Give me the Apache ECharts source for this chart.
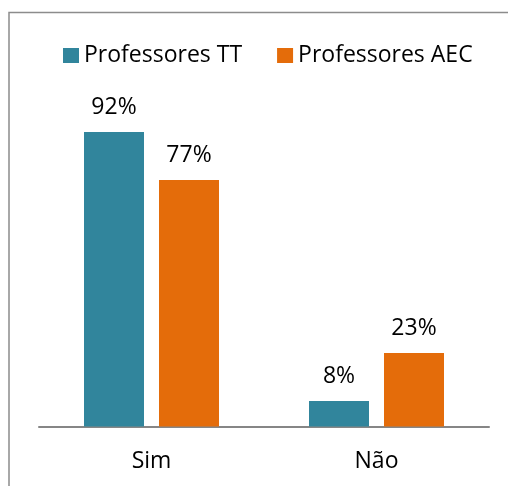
<!DOCTYPE html>
<html>
<head>
<meta charset="utf-8">
<script src="https://cdn.jsdelivr.net/npm/echarts@6/dist/echarts.min.js"></script>
<style>
  html, body { margin: 0; padding: 0; background: #fff; }
  #chart { width: 508px; height: 486px; }
</style>
</head>
<body>
<div id="chart"></div>
<script>
// dados
const categorias = ['Sim', 'Não'];
const professoresTT = [92, 8];
const professoresAEC = [77, 23];

const FONT = 'Open Sans';
const FS = 23;

const chart = echarts.init(document.getElementById('chart'));

const option = {
  animation: false,
  textStyle: { fontFamily: FONT },
  graphic: [{
    type: 'rect',
    shape: { x: 9, y: 12.5, width: 520, height: 500 },
    style: { fill: 'none', stroke: '#8c8c8c', lineWidth: 1.5 },
    silent: true
  }],
  legend: {
    left: 63,
    top: 44,
    padding: 0,
    itemWidth: 16,
    itemHeight: 15,
    itemGap: 35,
    icon: 'rect',
    textStyle: { fontFamily: FONT, fontSize: FS, color: '#000' },
    data: ['Professores TT', 'Professores AEC']
  },
  grid: { left: 39, right: 19, top: 106.5, bottom: 59.5 },
  xAxis: {
    type: 'category',
    data: categorias,
    axisLine: { lineStyle: { color: '#868686', width: 2 } },
    axisTick: { show: false },
    axisLabel: { fontFamily: FONT, fontSize: FS, color: '#000', margin: 23 }
  },
  yAxis: {
    type: 'value',
    min: 0,
    max: 100,
    show: false
  },
  series: [
    {
      name: 'Professores TT',
      type: 'bar',
      data: professoresTT,
      barGap: '25%',
      barCategoryGap: '40%',
      itemStyle: { color: '#31859C' },
      label: {
        show: true, position: 'top', distance: 13,
        formatter: '{c}%', fontFamily: FONT, fontSize: FS, color: '#000'
      }
    },
    {
      name: 'Professores AEC',
      type: 'bar',
      data: professoresAEC,
      itemStyle: { color: '#E46C0A' },
      label: {
        show: true, position: 'top', distance: 13,
        formatter: '{c}%', fontFamily: FONT, fontSize: FS, color: '#000'
      }
    }
  ]
};

chart.setOption(option);
</script>
</body>
</html>
